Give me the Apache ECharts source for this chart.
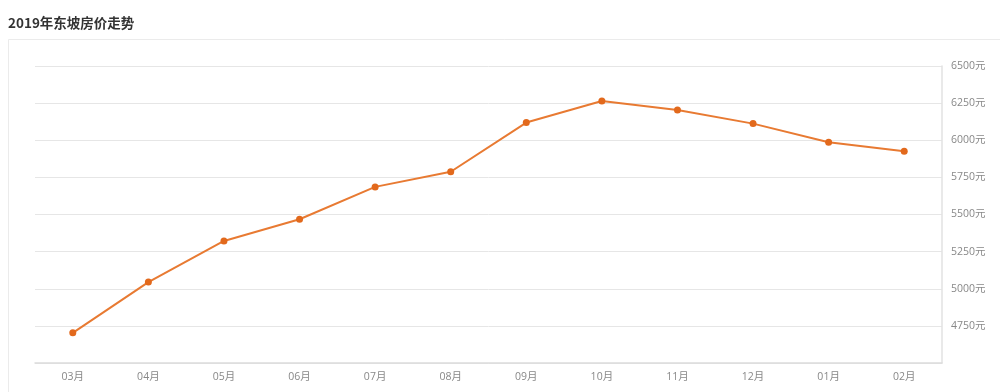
<!DOCTYPE html>
<html>
<head>
<meta charset="utf-8">
<script src="https://cdn.jsdelivr.net/npm/echarts@6/dist/echarts.min.js"></script>
<style>html,body{margin:0;padding:0;background:#fff;}#c{width:1000px;height:392px;}</style>
</head>
<body>
<div id="c"></div>
<script>
const titleText = '2019年东坡房价走势';
const categories = ['03月','04月','05月','06月','07月','08月','09月','10月','11月','12月','01月','02月'];
const prices = [4703, 5045, 5322, 5468, 5686, 5788, 6119, 6264, 6203, 6112, 5986, 5926];
const yMin = 4500, yMax = 6500, yStep = 250;
const unit = '元';

const chart = echarts.init(document.getElementById('c'), null, {renderer: 'canvas'});
chart.setOption({
  animation: false,
  backgroundColor: '#fff',
  title: {
    text: titleText, left: 3, top: 11,
    textStyle: {fontSize: 13.5, fontWeight: 'bold', color: '#333', fontFamily: 'Noto Sans CJK SC'}
  },
  graphic: [{
    type: 'rect', silent: true, z: -1,
    shape: {x: 8.5, y: 39.5, width: 1000, height: 400},
    style: {fill: 'none', stroke: '#ebebeb', lineWidth: 1}
  }],
  grid: {left: 35, right: 58, top: 66, bottom: 29, containLabel: false},
  xAxis: {
    type: 'category', data: categories, boundaryGap: true,
    axisLine: {show: true, lineStyle: {color: '#dcdcdc', width: 1.5}},
    axisTick: {show: false},
    axisLabel: {color: '#888', fontSize: 10.5, margin: 9, fontFamily: 'Open Sans, Noto Sans CJK SC'},
    splitLine: {show: false}
  },
  yAxis: {
    type: 'value', position: 'right', min: yMin, max: yMax, interval: yStep,
    axisLine: {show: true, lineStyle: {color: '#e2e2e2', width: 1.5}},
    axisTick: {show: false},
    axisLabel: {color: '#888', fontSize: 10.5, margin: 9, showMinLabel: false,
      formatter: function (v) { return String(v) + unit; },
      fontFamily: 'Open Sans, Noto Sans CJK SC'},
    splitLine: {show: true, lineStyle: {color: '#e6e6e6', width: 1}}
  },
  series: [{
    type: 'line', data: prices,
    symbol: 'circle', symbolSize: 7,
    lineStyle: {color: '#e87a32', width: 2},
    itemStyle: {color: '#e2691c'}
  }]
});
</script>
</body>
</html>
